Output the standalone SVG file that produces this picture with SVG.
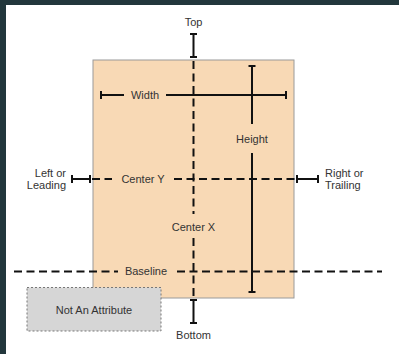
<svg xmlns="http://www.w3.org/2000/svg" width="399" height="354" viewBox="0 0 399 354">
<style>
text{font-family:"Liberation Sans",Arial,sans-serif;font-size:11px;fill:#333}
.solid{stroke:#111;stroke-width:2;fill:none}
.dash{stroke:#111;stroke-width:2;fill:none;stroke-dasharray:8 4.5}
</style>
<rect x="0" y="0" width="399" height="354" fill="#ffffff"/>
<rect x="0" y="0" width="399" height="5" fill="#22373c"/>
<rect x="0" y="0" width="6" height="354" fill="#22373c"/>
<g id="view">
<rect x="93" y="60" width="201" height="238" fill="#f8d9b5" stroke="#9a9a9a" stroke-width="1"/>
</g>
<g id="connectors">
<!-- center X vertical dashed -->
<line class="dash" x1="193.5" y1="61" x2="193.5" y2="214"/>
<line class="dash" x1="193.5" y1="238" x2="193.5" y2="298"/>
<!-- top I-beam -->
<path class="solid" d="M193.5 34V57M190 34H197M190 57H197"/>
<!-- bottom I-beam -->
<path class="solid" d="M193.5 300V323M190 300H197M190 323H197"/>
<!-- width -->
<path class="solid" d="M101 95H124M166 95H286M101 91V99M286 91V99"/>
<!-- height -->
<path class="solid" d="M252 66V124M252 153V292M248.5 66H255.5M248.5 292H255.5"/>
<!-- center Y -->
<line class="dash" x1="92" y1="179" x2="112" y2="179"/>
<line class="dash" x1="174" y1="179" x2="296" y2="179"/>
<path class="solid" d="M72 179H90M72 175V183M90 175V183"/>
<path class="solid" d="M297 179H318M297 175V183M318 175V183"/>
<!-- baseline -->
<line class="dash" x1="14" y1="271.5" x2="118" y2="271.5"/>
<line class="dash" x1="177" y1="271.5" x2="382" y2="271.5"/>
</g>
<g id="labels">
<text x="193.5" y="26" text-anchor="middle">Top</text>
<text x="193.5" y="339" text-anchor="middle">Bottom</text>
<text x="145" y="99" text-anchor="middle">Width</text>
<text x="252" y="143" text-anchor="middle">Height</text>
<text x="143" y="183" text-anchor="middle">Center Y</text>
<text x="193.5" y="231" text-anchor="middle">Center X</text>
<text x="146" y="275" text-anchor="middle">Baseline</text>
<text x="66" y="177" text-anchor="end">Left or</text>
<text x="66" y="189" text-anchor="end">Leading</text>
<text x="325" y="177">Right or</text>
<text x="325" y="189">Trailing</text>
</g>
<g id="not-attribute">
<rect x="27" y="287.5" width="134" height="43.5" fill="#d6d6d6" stroke="#777" stroke-width="1" stroke-dasharray="2 2"/>
<text x="94" y="314" text-anchor="middle">Not An Attribute</text>
</g>
</svg>
